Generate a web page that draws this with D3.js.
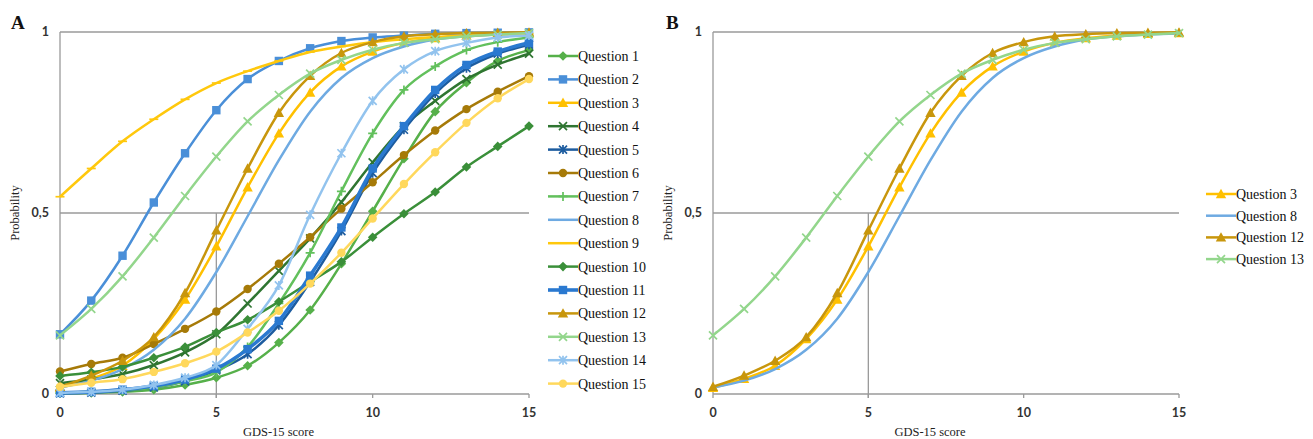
<!DOCTYPE html>
<html>
<head>
<meta charset="utf-8">
<script src="https://cdn.jsdelivr.net/npm/d3@7"></script>
<style>
  body { margin: 0; background: #fff; }
  svg { display: block; }
  .grid { stroke: #9a9a9a; stroke-width: 1.3; fill: none; }
  .tick-label { font-family: Lato, "Liberation Sans", sans-serif; font-weight: bold; font-size: 12.5px; fill: #333; }
  .axis-title { font-family: "Liberation Serif", serif; font-size: 12.5px; fill: #222; }
  .legend-text { font-family: "Liberation Serif", serif; font-size: 14px; fill: #111; }
  .panel-letter { font-family: "Liberation Serif", serif; font-weight: bold; font-size: 19px; fill: #111; }
</style>
</head>
<body>
<div class="container" style="width:1313px;height:439px"></div>
<script>
// GDS-15 score 0..15
var scores = d3.range(0, 16);
var xTicks = [0, 5, 10, 15];
var yTicks = [0, 0.5, 1];
var yTickLabels = ['0', '0,5', '1'];

// probability curves
var q1  = [0.002, 0.003, 0.006, 0.012, 0.025, 0.045, 0.078, 0.142, 0.232, 0.36, 0.505, 0.65, 0.78, 0.86, 0.92, 0.95];
var q2  = [0.165, 0.258, 0.382, 0.529, 0.665, 0.784, 0.87, 0.92, 0.955, 0.975, 0.985, 0.99, 0.995, 0.997, 0.998, 0.999];
var q3  = [0.017, 0.042, 0.078, 0.152, 0.261, 0.408, 0.571, 0.72, 0.833, 0.905, 0.946, 0.97, 0.983, 0.99, 0.995, 0.997];
var q4  = [0.03, 0.04, 0.055, 0.08, 0.115, 0.165, 0.25, 0.34, 0.43, 0.53, 0.64, 0.74, 0.81, 0.87, 0.91, 0.94];
var q5  = [0.002, 0.004, 0.009, 0.018, 0.035, 0.065, 0.11, 0.19, 0.31, 0.45, 0.61, 0.73, 0.83, 0.9, 0.94, 0.965];
var q6  = [0.062, 0.083, 0.1, 0.138, 0.18, 0.228, 0.29, 0.36, 0.433, 0.512, 0.585, 0.66, 0.728, 0.787, 0.835, 0.878];
var q7  = [0.003, 0.006, 0.01, 0.018, 0.035, 0.06, 0.13, 0.25, 0.39, 0.56, 0.72, 0.84, 0.905, 0.95, 0.972, 0.985];
var q8  = [0.018, 0.037, 0.069, 0.122, 0.208, 0.337, 0.491, 0.646, 0.78, 0.873, 0.928, 0.96, 0.979, 0.988, 0.993, 0.996];
var q9  = [0.545, 0.623, 0.698, 0.759, 0.814, 0.859, 0.892, 0.92, 0.945, 0.96, 0.972, 0.98, 0.986, 0.99, 0.993, 0.995];
var q10 = [0.05, 0.06, 0.075, 0.1, 0.13, 0.17, 0.205, 0.255, 0.31, 0.365, 0.433, 0.498, 0.558, 0.627, 0.684, 0.74];
var q11 = [0.003, 0.006, 0.012, 0.022, 0.04, 0.07, 0.124, 0.202, 0.327, 0.46, 0.623, 0.74, 0.84, 0.909, 0.946, 0.97];
var q12 = [0.02, 0.051, 0.092, 0.157, 0.279, 0.452, 0.623, 0.777, 0.879, 0.942, 0.972, 0.988, 0.994, 0.997, 0.998, 0.999];
var q13 = [0.162, 0.235, 0.325, 0.432, 0.547, 0.656, 0.753, 0.826, 0.885, 0.923, 0.951, 0.97, 0.98, 0.988, 0.993, 0.997];
var q14 = [0.003, 0.006, 0.012, 0.025, 0.045, 0.08, 0.18, 0.3, 0.495, 0.665, 0.81, 0.897, 0.947, 0.97, 0.985, 0.99];
var q15 = [0.02, 0.031, 0.041, 0.061, 0.085, 0.117, 0.17, 0.23, 0.305, 0.39, 0.485, 0.58, 0.668, 0.749, 0.817, 0.87];

var seriesA = [
  {name: 'Question 1',  values: q1,  color: '#56b04a', marker: 'diamond'},
  {name: 'Question 2',  values: q2,  color: '#4a8fd8', marker: 'square'},
  {name: 'Question 3',  values: q3,  color: '#ffc000', marker: 'triangle'},
  {name: 'Question 4',  values: q4,  color: '#2f7531', marker: 'x'},
  {name: 'Question 5',  values: q5,  color: '#1d5c9f', marker: 'star'},
  {name: 'Question 6',  values: q6,  color: '#a67a08', marker: 'circle'},
  {name: 'Question 7',  values: q7,  color: '#62c05c', marker: 'plus'},
  {name: 'Question 8',  values: q8,  color: '#6eaae2', marker: 'none'},
  {name: 'Question 9',  values: q9,  color: '#ffc80c', marker: 'dash'},
  {name: 'Question 10', values: q10, color: '#3a8f39', marker: 'diamond'},
  {name: 'Question 11', values: q11, color: '#2a79d0', marker: 'square', width: 3.6},
  {name: 'Question 12', values: q12, color: '#c8960c', marker: 'triangle'},
  {name: 'Question 13', values: q13, color: '#93d68c', marker: 'x'},
  {name: 'Question 14', values: q14, color: '#92c3ee', marker: 'star'},
  {name: 'Question 15', values: q15, color: '#ffd85c', marker: 'circle'}
];
var seriesB = seriesA.filter(function(s) {
  return ['Question 3', 'Question 8', 'Question 12', 'Question 13'].indexOf(s.name) >= 0;
});

var svg = d3.select('.container')
  .append('svg')
  .attr('width', 1313)
  .attr('height', 439);

var y = d3.scaleLinear().domain([0, 1]).range([394, 32]);

function drawMarker(g, type, color, px, py) {
  if (type === 'square') {
    g.append('rect').attr('x', px - 4.2).attr('y', py - 4.2).attr('width', 8.4).attr('height', 8.4).attr('fill', color);
  } else if (type === 'diamond') {
    g.append('path').attr('d', 'M' + px + ',' + (py - 4.8) + 'L' + (px + 4.8) + ',' + py + 'L' + px + ',' + (py + 4.8) + 'L' + (px - 4.8) + ',' + py + 'Z').attr('fill', color);
  } else if (type === 'triangle') {
    g.append('path').attr('d', 'M' + px + ',' + (py - 5.2) + 'L' + (px + 5.2) + ',' + (py + 4.2) + 'L' + (px - 5.2) + ',' + (py + 4.2) + 'Z').attr('fill', color);
  } else if (type === 'circle') {
    g.append('circle').attr('cx', px).attr('cy', py).attr('r', 4.2).attr('fill', color);
  } else if (type === 'x' || type === 'star' || type === 'plus' || type === 'dash') {
    var p = '';
    if (type === 'x' || type === 'star') p += 'M' + (px - 4) + ',' + (py - 4) + 'L' + (px + 4) + ',' + (py + 4) + 'M' + (px - 4) + ',' + (py + 4) + 'L' + (px + 4) + ',' + (py - 4);
    if (type === 'star' || type === 'plus') p += 'M' + px + ',' + (py - 4.5) + 'L' + px + ',' + (py + 4.5);
    if (type === 'plus' || type === 'dash') p += 'M' + (px - 4.5) + ',' + py + 'L' + (px + 4.5) + ',' + py;
    g.append('path').attr('d', p).attr('stroke', color).attr('stroke-width', 1.7).attr('fill', 'none');
  }
}

function drawPanel(opts) {
  var x = d3.scaleLinear().domain([0, 15]).range([opts.x0, opts.x1]);
  var panel = svg.append('g');

  // grid and axes
  panel.append('line').attr('class', 'grid').attr('x1', x(0)).attr('x2', x(15)).attr('y1', y(1)).attr('y2', y(1));
  panel.append('line').attr('class', 'grid').attr('x1', x(0)).attr('x2', x(15)).attr('y1', y(0.5)).attr('y2', y(0.5));
  panel.append('line').attr('class', 'grid').attr('x1', x(0)).attr('x2', x(15)).attr('y1', y(0)).attr('y2', y(0));
  panel.append('line').attr('class', 'grid').attr('x1', x(0)).attr('x2', x(0)).attr('y1', y(0)).attr('y2', y(1));
  panel.append('line').attr('class', 'grid').attr('x1', x(5)).attr('x2', x(5)).attr('y1', y(0) + 4).attr('y2', y(0.5));
  xTicks.forEach(function(t) {
    panel.append('line').attr('class', 'grid').attr('x1', x(t)).attr('x2', x(t)).attr('y1', y(0)).attr('y2', y(0) + 4);
    panel.append('text').attr('class', 'tick-label').attr('x', x(t)).attr('y', y(0) + 23)
      .attr('text-anchor', 'middle').text(t);
  });
  yTicks.forEach(function(t, i) {
    panel.append('text').attr('class', 'tick-label').attr('x', x(0) - 11).attr('y', y(t) + 4)
      .attr('text-anchor', 'end').text(yTickLabels[i]);
  });

  panel.append('text').attr('class', 'axis-title')
    .attr('transform', 'translate(' + (x(0) - 41) + ',' + y(0.5) + ') rotate(-90)')
    .attr('text-anchor', 'middle').text('Probability');
  panel.append('text').attr('class', 'axis-title')
    .attr('x', (x(0) + x(15)) / 2 - 16).attr('y', 436)
    .attr('text-anchor', 'middle').text('GDS-15 score');
  panel.append('text').attr('class', 'panel-letter')
    .attr('x', opts.letterX).attr('y', 29).text(opts.letter);

  var line = d3.line()
    .x(function(d, i) { return x(scores[i]); })
    .y(function(d) { return y(d); })
    .curve(d3.curveMonotoneX);

  opts.series.forEach(function(s) {
    var g = panel.append('g');
    g.append('path').attr('d', line(s.values))
      .attr('fill', 'none').attr('stroke', s.color)
      .attr('stroke-width', s.width || 2.5).attr('stroke-linejoin', 'round');
    s.values.forEach(function(v, i) {
      drawMarker(g, s.marker, s.color, x(scores[i]), y(v));
    });
  });

  // legend
  var legend = panel.append('g');
  opts.series.forEach(function(s, i) {
    var ly = opts.legendY + i * opts.legendStep;
    var item = legend.append('g');
    item.append('line').attr('x1', opts.legendX).attr('x2', opts.legendX + 30)
      .attr('y1', ly).attr('y2', ly).attr('stroke', s.color).attr('stroke-width', s.width || 2.5);
    drawMarker(item, s.marker, s.color, opts.legendX + 15, ly);
    item.append('text').attr('class', 'legend-text').attr('x', opts.legendX + 30).attr('y', ly + 5).text(s.name);
  });
}

drawPanel({x0: 60, x1: 529, series: seriesA, letter: 'A', letterX: 11,
  legendX: 548, legendY: 56, legendStep: 23.4});
drawPanel({x0: 713, x1: 1179, series: seriesB, letter: 'B', letterX: 666,
  legendX: 1206, legendY: 194, legendStep: 21.7});
</script>
</body>
</html>
